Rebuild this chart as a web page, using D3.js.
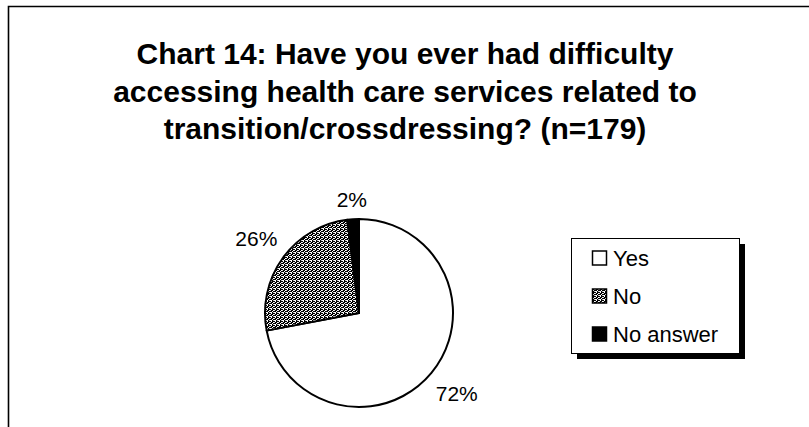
<!DOCTYPE html>
<html>
<head>
<meta charset="utf-8">
<script src="https://cdn.jsdelivr.net/npm/d3@7"></script>
<style>
  html, body { margin: 0; padding: 0; background: #fff; }
  svg { display: block; }
  text { font-family: "Liberation Sans", Arial, sans-serif; fill: #000; }
</style>
</head>
<body>
<svg id="chart" width="809" height="427"></svg>
<script>
const titleLines = [
  "Chart 14: Have you ever had difficulty",
  "accessing health care services related to",
  "transition/crossdressing? (n=179)"
];
const categories = ["Yes", "No", "No answer"];
const values = [72, 26, 2];
const labels = ["72%", "26%", "2%"];

const W = 809, H = 427;
const svg = d3.select("#chart");

// pattern for "No"
const defs = svg.append("defs");
const pat = defs.append("pattern")
  .attr("id", "dots").attr("patternUnits", "userSpaceOnUse")
  .attr("width", 4).attr("height", 4);
pat.append("rect").attr("width", 4).attr("height", 4).attr("fill", "#000");
[[0,0],[2,1],[1,2],[3,3],[0,3]].forEach(([x,y]) =>
  pat.append("rect").attr("x", x).attr("y", y).attr("width", 1).attr("height", 1).attr("fill", "#fff"));
pat.append("rect").attr("x", 2).attr("y", 3).attr("width", 1).attr("height", 1).attr("fill", "#bbb");
pat.append("rect").attr("x", 3).attr("y", 1).attr("width", 1).attr("height", 1).attr("fill", "#ddd");

const fills = d3.scaleOrdinal().domain(categories).range(["#fff", "url(#dots)", "#000"]);

// frame
svg.append("path")
  .attr("d", `M8.5,${H} V6.5 H${W}`)
  .attr("fill", "none").attr("stroke", "#000").attr("stroke-width", 1.6);

// title
svg.append("g").selectAll("text").data(titleLines).join("text")
  .attr("x", 405).attr("y", (d, i) => 64 + i * 37.5)
  .attr("text-anchor", "middle")
  .attr("font-size", 30).attr("font-weight", "bold")
  .text(d => d);

// pie
const cx = 359, cy = 313, r = 94;
const pie = d3.pie().sort(null).value(d => d.v);
const arcs = pie(categories.map((c, i) => ({ c, v: values[i], l: labels[i] })));
const arc = d3.arc().innerRadius(0).outerRadius(r);
const g = svg.append("g").attr("transform", `translate(${cx},${cy})`);
g.selectAll("path").data(arcs).join("path")
  .attr("d", arc)
  .attr("fill", d => fills(d.data.c))
  .attr("stroke", "#000").attr("stroke-width", 2).attr("stroke-linejoin", "round");

// label distance factors (layout only)
const labelRadiusFactor = [1.35, 1.35, 1.21];
g.selectAll("text").data(arcs).join("text")
  .attr("transform", (d, i) => {
    const rr = r * labelRadiusFactor[i];
    return `translate(${d3.arc().innerRadius(rr).outerRadius(rr).centroid(d)})`;
  })
  .attr("text-anchor", "middle").attr("dy", "0.35em")
  .attr("font-size", 21)
  .text(d => d.data.l);

// legend
const lx = 571, ly = 238, lw = 168, lh = 115;
svg.append("rect").attr("x", lx + 6).attr("y", ly + 6).attr("width", lw).attr("height", lh).attr("fill", "#000");
svg.append("rect").attr("x", lx + 0.5).attr("y", ly + 0.5).attr("width", lw).attr("height", lh)
  .attr("fill", "#fff").attr("stroke", "#000").attr("stroke-width", 1);
const items = svg.append("g").selectAll("g").data(categories).join("g")
  .attr("transform", (d, i) => `translate(${lx + 21},${ly + 20 + i * 38})`);
items.append("rect").attr("x", 0.5).attr("y", -7).attr("width", 14).attr("height", 14)
  .attr("fill", d => fills(d)).attr("stroke", "#000").attr("stroke-width", 1.5);
items.append("text").attr("x", 21).attr("y", 0).attr("dy", "0.35em")
  .attr("font-size", 22).text(d => d);
</script>
</body>
</html>
